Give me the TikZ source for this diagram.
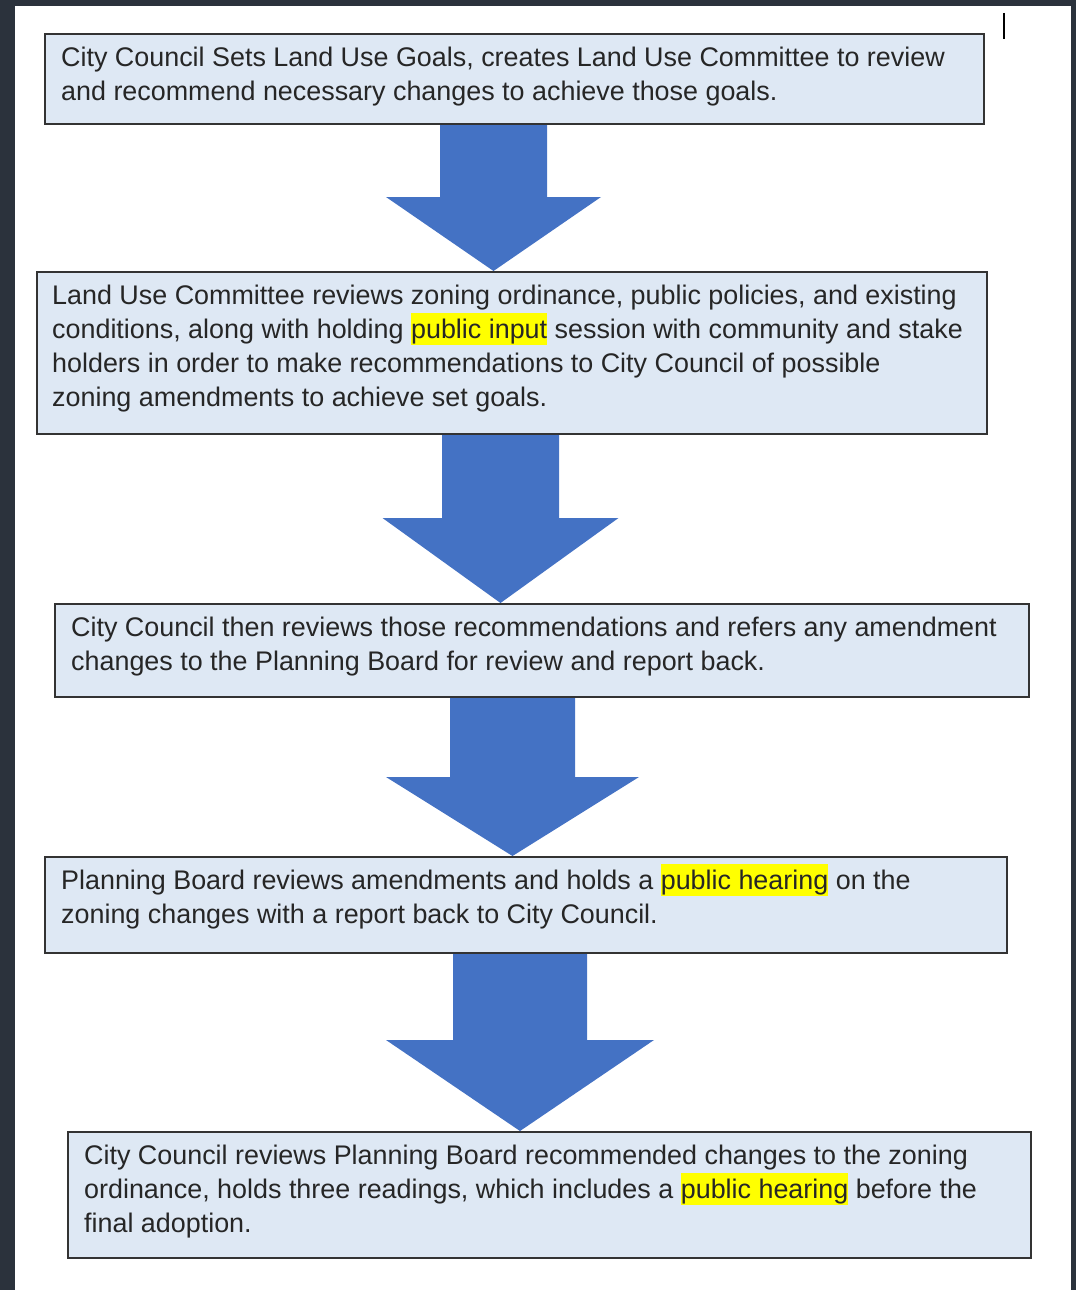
\documentclass[tikz,border=0pt]{standalone}
\usepackage{fontspec}
\setmainfont{Liberation Sans}
\usepackage{xcolor}
\usetikzlibrary{positioning,calc,backgrounds}

\definecolor{stepfill}{HTML}{DEE8F4}
\definecolor{arrowblue}{HTML}{4472C4}
\definecolor{darkframe}{HTML}{2B323C}
\definecolor{hlyellow}{HTML}{FFFF00}

% yellow marker behind a few words
\newcommand{\hl}[1]{{\setlength{\fboxsep}{0pt}\colorbox{hlyellow}{\rule[-7pt]{0pt}{32pt}#1}}}
% fixes the height of the first line
\newcommand{\firstline}{\rule{0pt}{26pt}}

% block arrow: from, to, centre x, shaft half width, head half width, head y
\newcommand{\blockarrow}[6]{%
  \fill[flowblue] ({#3-#4},0 |- #1.south) -- ({#3-#4},#6) -- ({#3-#5},#6)
    -- (#3,0 |- #2.north) -- ({#3+#5},#6) -- ({#3+#4},#6)
    -- ({#3+#4},0 |- #1.south) -- cycle;}

\begin{document}
\begin{tikzpicture}[x=1pt, y=-1pt,
    stepbox/.style={draw=black!80, line width=1.6pt, fill=stepfill, inner sep=0pt, anchor=north west},
    steptext/.style={anchor=north west, inner sep=0pt, align=left, text=black!85,
      font=\fontsize{26.9}{34}\selectfont},
    flowblue/.style={fill=arrowblue}]

    \useasboundingbox (0,0) rectangle (1076,1290);
    % dark surround of the page
    \fill[darkframe] (0,0) rectangle (1076,6);
    \fill[darkframe] (0,0) rectangle (15,1290);
    \fill[darkframe] (1071,0) rectangle (1076,1290);
    \draw[line width=2pt] (1004,13) -- (1004,39);

    \node[stepbox, minimum width=939, minimum height=90] (council) at (44,33) {};
    \node[stepbox, minimum width=950, minimum height=162] (committee) at (36,271) {};
    \node[stepbox, minimum width=974, minimum height=93] (referral) at (54,603) {};
    \node[stepbox, minimum width=962, minimum height=96] (board) at (44,856) {};
    \node[stepbox, minimum width=963, minimum height=126] (adoption) at (67,1131) {};

    \node[steptext] (councilText) at ([shift={(17,7)}]council.north west)
      {\firstline City Council Sets Land Use Goals, creates Land Use Committee to review\\
       and recommend necessary changes to achieve those goals.};
    \node[steptext] (committeeText) at ([shift={(16,7)}]committee.north west)
      {\firstline Land Use Committee reviews zoning ordinance, public policies, and existing\\
       conditions, along with holding \hl{public input} session with community and stake\\
       holders in order to make recommendations to City Council of possible\\
       zoning amendments to achieve set goals.};
    \node[steptext] (referralText) at ([shift={(17,7)}]referral.north west)
      {\firstline City Council then reviews those recommendations and refers any amendment\\
       changes to the Planning Board for review and report back.};
    \node[steptext] (boardText) at ([shift={(17,7)}]board.north west)
      {\firstline Planning Board reviews amendments and holds a \hl{public hearing} on the\\
       zoning changes with a report back to City Council.};
    \node[steptext] (adoptionText) at ([shift={(17,7)}]adoption.north west)
      {\firstline City Council reviews Planning Board recommended changes to the zoning\\
       ordinance, holds three readings, which includes a \hl{public hearing} before the\\
       final adoption.};

    \begin{scope}[on background layer]
      \blockarrow{council}{committee}{493.5}{53.5}{107.5}{197}
      \blockarrow{committee}{referral}{500.5}{58.5}{118}{518}
      \blockarrow{referral}{board}{512.5}{62.5}{126.5}{777}
      \blockarrow{board}{adoption}{520}{67}{134}{1040}
    \end{scope}

\end{tikzpicture}
\end{document}
